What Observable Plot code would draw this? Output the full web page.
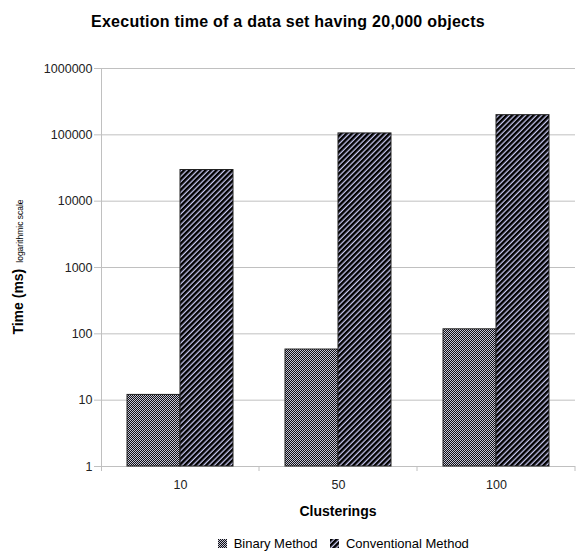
<!DOCTYPE html>
<html><head><meta charset="utf-8">
<script src="https://cdn.jsdelivr.net/npm/d3@7"></script>
<script src="https://cdn.jsdelivr.net/npm/@observablehq/plot@0.6"></script>
<style>
body{margin:0;background:#fff;font-family:"Liberation Sans",Arial,sans-serif;}
#wrap{width:576px;height:554px;position:relative;overflow:hidden;}
#title{position:absolute;top:0;left:0;width:576px;height:40px;line-height:44px;text-align:center;font-weight:bold;font-size:16px;letter-spacing:0.25px;color:#000;}
#chart{position:absolute;top:40px;left:0;}
#legend{position:absolute;top:536px;left:62px;width:576px;display:flex;justify-content:center;}
#legend > *{margin:0 !important;min-height:0 !important;}
</style>
</head><body>
<div id="wrap">
<div id="title">Execution time of a data set having 20,000 objects</div>
<div id="chart"></div>
<div id="legend"></div>
</div>
<script>
const clusterings = ["10", "50", "100"];
const methods = ["Binary Method", "Conventional Method"];
const binaryTimes = [12, 58, 117];
const conventionalTimes = [29500, 105000, 198000];
const yTicks = [1, 10, 100, 1000, 10000, 100000, 1000000];

const data = clusterings.flatMap((c, i) => [
  {clustering: c, method: methods[0], time: binaryTimes[i]},
  {clustering: c, method: methods[1], time: conventionalTimes[i]}
]);

const chart = Plot.plot({
  width: 576,
  height: 485,
  marginTop: 28,
  marginBottom: 59,
  marginLeft: 100,
  marginRight: 1,
  style: {fontFamily: "Liberation Sans, Arial, sans-serif", fontSize: "12px", color: "#222", background: "#fff"},
  fx: {domain: clusterings, padding: 0, label: "Clusterings", axis: null},
  x: {domain: methods, paddingInner: 0, paddingOuter: 0.48, axis: null},
  y: {type: "log", domain: [1, 1000000]},
  color: {domain: methods, range: ["url(#pat-binary)", "url(#pat-conv)"]},
  marks: [
    Plot.gridY({ticks: yTicks, stroke: "#c0c0c0", strokeOpacity: 1}),
    Plot.barY(data, {fx: "clustering", x: "method", y1: 1, y2: "time", fill: "method", stroke: "#222", strokeWidth: 1}),
    Plot.axisY({ticks: yTicks, tickFormat: d => String(d), tickSize: 7, tickPadding: 2, stroke: "#c0c0c0", label: null, fontSize: 12.5, style: {letterSpacing: "1px"}}),
    Plot.axisFx({anchor: "bottom", tickSize: 0, tickPadding: 14, fontSize: 12.5, label: null})
  ]
});
document.getElementById("chart").appendChild(chart);

const svg = d3.select(chart);
const defs = svg.insert("defs", ":first-child");
const pb = defs.append("pattern").attr("id", "pat-binary").attr("patternUnits", "userSpaceOnUse").attr("width", 2).attr("height", 2);
pb.append("rect").attr("width", 2).attr("height", 2).attr("fill", "#c4c4d8");
pb.append("rect").attr("width", 1).attr("height", 1).attr("fill", "#111");
pb.append("rect").attr("x", 1).attr("y", 1).attr("width", 1).attr("height", 1).attr("fill", "#111");
const pc = defs.append("pattern").attr("id", "pat-conv").attr("patternUnits", "userSpaceOnUse").attr("width", 3.8).attr("height", 3.8).attr("patternTransform", "rotate(45)");
pc.append("rect").attr("width", 3.8).attr("height", 3.8).attr("fill", "#c8c8f0");
pc.append("rect").attr("width", 2.5).attr("height", 3.8).attr("fill", "#000");

// axis line and facet boundary ticks from scales
const fx = chart.scale("fx");
const y = chart.scale("y");
const y0 = y.apply(1), y1 = y.apply(1000000);
const left = fx.apply(clusterings[0]);
const step = fx.step;
const right = fx.apply(clusterings[clusterings.length - 1]) + step;
const g = svg.append("g").attr("stroke", "#c0c0c0").attr("fill", "none");
g.append("line").attr("x1", left + 0.5).attr("x2", left + 0.5).attr("y1", y1).attr("y2", y0 + 5);
clusterings.forEach((c, i) => {
  const xb = fx.apply(c) + step;
  g.append("line").attr("x1", xb).attr("x2", xb).attr("y1", y0).attr("y2", y0 + 5);
});

// x label
svg.append("text")
  .attr("x", (left + right) / 2).attr("y", y0 + 45).attr("dy", "0.35em")
  .attr("text-anchor", "middle").attr("font-weight", "bold").attr("font-size", 14).attr("fill", "#000")
  .text("Clusterings");

// y label
const yl = svg.append("text")
  .attr("transform", `translate(23,${(y0 + y1) / 2}) rotate(-90)`)
  .attr("text-anchor", "middle").attr("fill", "#000");
yl.append("tspan").attr("font-weight", "bold").attr("font-size", 14).text("Time (ms)");
yl.append("tspan").attr("font-size", 8.5).attr("dx", 6).text("logarithmic scale");

// legend
const legend = chart.legend("color", {swatchSize: 9, swatchWidth: 9, swatchHeight: 9, style: {fontFamily: "Liberation Sans, Arial, sans-serif", fontSize: "13px", color: "#000"}});
document.getElementById("legend").appendChild(legend);
</script>
</body></html>
